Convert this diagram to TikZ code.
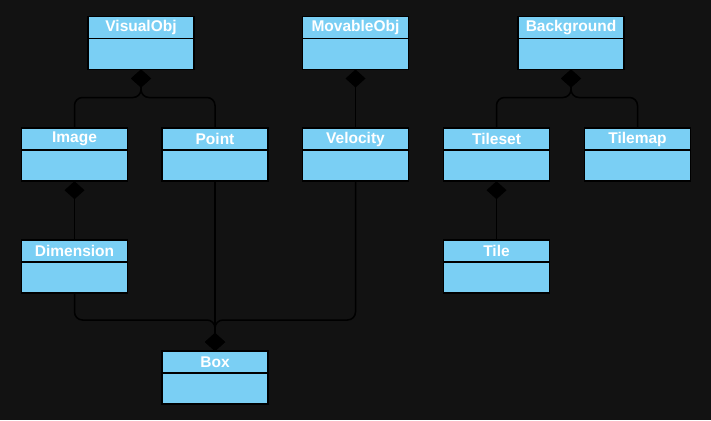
\documentclass[tikz,border=0pt]{standalone}
\usepackage{fontspec}
\setmainfont{Liberation Sans}
\usetikzlibrary{arrows.meta}
\definecolor{bg}{RGB}{18,18,18}
\definecolor{clsfill}{RGB}{122,207,244}
\newcommand\umlcls[3]{%
  \node[cls] (#1) at (#2,#3) {};
  \node[hdr] (#1-t) at ([yshift=-11pt]#1.north) {#1};
  \draw[div] ([yshift=-22pt]#1.north west) -- ([yshift=-22pt]#1.north east);
}
\begin{document}
\begin{tikzpicture}[x=1pt,y=-1pt,
  cls/.style={draw=black, line width=1.5pt, fill=clsfill, minimum width=106pt, minimum height=53pt, inner sep=0pt, outer sep=0pt},
  hdr/.style={text=white, font=\fontsize{15.5}{18}\selectfont\bfseries, anchor=center, inner sep=0pt},
  div/.style={draw=black, line width=1.5pt},
  comp/.style={draw=black, line width=1.5pt, rounded corners=8pt, {Diamond[length=18pt,width=20pt]}-}
]
\fill[bg] (0,0) rectangle (711,420);
\useasboundingbox (0,0) rectangle (711,420);

\umlcls{VisualObj}{141}{43}
\umlcls{MovableObj}{355.5}{43}
\umlcls{Background}{571}{43}
\umlcls{Image}{74.5}{154.7}
\umlcls{Point}{215}{154.7}
\umlcls{Velocity}{355.5}{154.7}
\umlcls{Tileset}{496.5}{154.7}
\umlcls{Tilemap}{637.5}{154.7}
\umlcls{Dimension}{74.5}{266.3}
\umlcls{Tile}{496.5}{266.3}
\umlcls{Box}{215}{377.5}

\draw[comp] (VisualObj.south) -- ++(0,28) -| (Image.north);
\draw[comp] (VisualObj.south) -- ++(0,28) -| (Point.north);
\draw[comp] (MovableObj.south) -- (Velocity.north);
\draw[comp] (Background.south) -- ++(0,28) -| (Tileset.north);
\draw[comp] (Background.south) -- ++(0,28) -| (Tilemap.north);
\draw[comp] (Image.south) -- (Dimension.north);
\draw[comp] (Tileset.south) -- (Tile.north);
\draw[comp] (Box.north) -- ++(0,-31) -| (Dimension.south);
\draw[comp] (Box.north) -- (Point.south);
\draw[comp] (Box.north) -- ++(0,-31) -| (Velocity.south);
\end{tikzpicture}
\end{document}
